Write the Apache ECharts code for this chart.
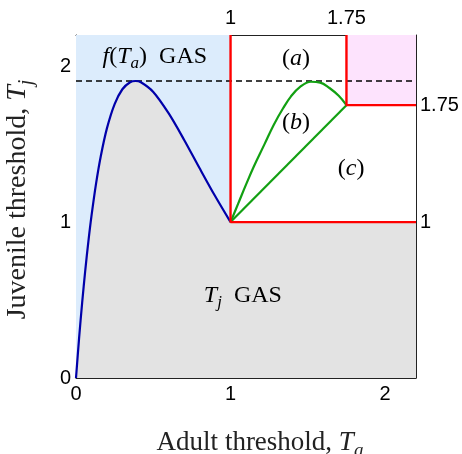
<!DOCTYPE html>
<html>
<head>
<meta charset="utf-8">
<script src="https://cdn.jsdelivr.net/npm/echarts@6/dist/echarts.min.js"></script>
<style>html,body{margin:0;padding:0;background:#fff}#c{width:462px;height:454px}</style>
</head>
<body>
<div id="c"></div>
<script>
// f(Ta) boundary curve (blue)
const fTa = [0, 0.02, 0.04, 0.06, 0.08, 0.10, 0.13, 0.16, 0.20, 0.25, 0.30, 0.35, 0.385, 0.42, 0.50, 0.60, 0.70, 0.80, 0.90, 1.00];
const fTj = [0, 0.256, 0.485, 0.691, 0.875, 1.038, 1.248, 1.421, 1.601, 1.757, 1.852, 1.897, 1.905, 1.897, 1.835, 1.697, 1.527, 1.345, 1.167, 1.00];
// green region boundary
const gTa = [1.00, 1.05, 1.10, 1.15, 1.22, 1.28, 1.34, 1.39, 1.45, 1.52, 1.58, 1.64, 1.70, 1.75];
const gTj = [1.00, 1.12, 1.24, 1.355, 1.50, 1.625, 1.73, 1.805, 1.867, 1.90, 1.895, 1.86, 1.81, 1.75];
const diagTa = [1.00, 1.75];
const diagTj = [1.00, 1.75];
// red threshold lines
const red1Ta = [1, 1, 2.2];
const red1Tj = [2.2, 1, 1];
const red2Ta = [1.75, 1.75, 2.2];
const red2Tj = [2.2, 1.75, 1.75];
// dashed max level
const peakLevel = 1.905;
// axes
const axisMax = 2.2;
const bottomTicks = [0, 1, 2];
const leftTicks = [0, 1, 2];
const topTicks = [1, 1.75];
const rightTicks = [1, 1.75];

const zip = (a, b) => a.map((v, i) => [v, b[i]]);
const grayData = zip(fTa, fTj).concat([[axisMax, 1]]);

const serif = 'Liberation Serif';
const sans = 'Liberation Sans';
function mkRich(fs) {
  return {
    n: {fontFamily: serif, fontSize: fs, lineHeight: fs + 2, color: '#222'},
    i: {fontFamily: serif, fontSize: fs, fontStyle: 'italic', lineHeight: fs + 2, color: '#222'},
    s: {fontFamily: serif, fontSize: Math.round(fs * 0.7), fontStyle: 'italic', lineHeight: Math.round(fs * 0.7) + 2, padding: [Math.round(fs * 0.6), 0, 0, 0], color: '#222'}
  };
}
const richNote = mkRich(24);
const richTitle = mkRich(27);
const richTitleY = mkRich(28);

const chart = echarts.init(document.getElementById('c'), null, {renderer: 'canvas'});
const axisLine = {show: true, onZero: false, lineStyle: {color: '#222', width: 1}};
const lbl = {fontFamily: sans, fontSize: 20, color: '#000'};
chart.setOption({
  animation: false,
  backgroundColor: '#fff',
  grid: {left: 76, right: 46, top: 35, bottom: 76, containLabel: false, outerBoundsMode: 'none'},
  xAxis: [{
    type: 'value', min: 0, max: axisMax, position: 'bottom',
    axisLine: axisLine, splitLine: {show: false},
    axisTick: {show: true, inside: true, length: 5, customValues: bottomTicks, lineStyle: {color: '#222'}},
    axisLabel: Object.assign({customValues: bottomTicks, margin: 6}, lbl),
    name: '{n|Adult threshold, }{i|T}{s|a}', nameLocation: 'middle', nameGap: 50,
    nameTextStyle: {rich: richTitle, padding: [0, 0, 0, 28]}
  }, {
    type: 'value', min: 0, max: axisMax, position: 'top',
    axisLine: axisLine, splitLine: {show: false},
    axisTick: {show: true, inside: true, length: 5, customValues: topTicks, lineStyle: {color: '#222'}},
    axisLabel: Object.assign({customValues: topTicks, margin: 7}, lbl)
  }],
  yAxis: [{
    type: 'value', min: 0, max: axisMax, position: 'left',
    axisLine: axisLine, splitLine: {show: false},
    axisTick: {show: true, inside: true, length: 5, customValues: leftTicks, lineStyle: {color: '#222'}},
    axisLabel: Object.assign({customValues: leftTicks, margin: 5}, lbl),
    name: '{n|Juvenile threshold, }{i|T}{s|j}', nameLocation: 'middle', nameGap: 43, nameRotate: 90,
    nameTextStyle: {rich: richTitleY, padding: [0, 0, 0, 14]}
  }, {
    type: 'value', min: 0, max: axisMax, position: 'right',
    axisLine: axisLine, splitLine: {show: false},
    axisTick: {show: true, inside: true, length: 5, customValues: rightTicks, lineStyle: {color: '#222'}},
    axisLabel: Object.assign({customValues: rightTicks, margin: 4}, lbl)
  }],
  series: [
    {type: 'line', data: [], z: 1, silent: true,
      markArea: {silent: true, data: [
        [{coord: [0, 0], itemStyle: {color: '#dcecfc'}}, {coord: [1, axisMax]}],
        [{coord: [1.75, 1.75], itemStyle: {color: '#fde3fd'}}, {coord: [axisMax, axisMax]}]
      ]}},
    {type: 'line', data: grayData, z: 2, symbol: 'none', lineStyle: {width: 0}, areaStyle: {color: '#e3e3e3', opacity: 1}},
    {type: 'line', data: [[0, peakLevel], [axisMax, peakLevel]], z: 3, symbol: 'none', lineStyle: {color: '#000', width: 1.3, type: [6, 4]}},
    {type: 'line', data: zip(fTa, fTj), z: 4, symbol: 'none', smooth: 0.3, lineStyle: {color: '#0000aa', width: 2.2}},
    {type: 'line', data: zip(gTa, gTj), z: 4, symbol: 'none', smooth: 0.4, lineStyle: {color: '#12a012', width: 2.2}},
    {type: 'line', data: zip(diagTa, diagTj), z: 4, symbol: 'none', lineStyle: {color: '#12a012', width: 2.2}},
    {type: 'line', data: zip(red1Ta, red1Tj), z: 5, symbol: 'none', lineStyle: {color: '#ff0000', width: 2.4}},
    {type: 'line', data: zip(red2Ta, red2Tj), z: 5, symbol: 'none', lineStyle: {color: '#ff0000', width: 2.4}}
  ]
});

const notes = [
  {pos: [0.51, 2.06], text: '{i|f}{n|(}{i|T}{s|a}{n|)  GAS}'},
  {pos: [1.424, 2.045], text: '{n|(}{i|a}{n|)}'},
  {pos: [1.424, 1.64], text: '{n|(}{i|b}{n|)}'},
  {pos: [1.78, 1.345], text: '{n|(}{i|c}{n|)}'},
  {pos: [1.08, 0.53], text: '{i|T}{s|j}{n|  GAS}'}
];
chart.setOption({
  graphic: notes.map(n => {
    const p = chart.convertToPixel({xAxisIndex: 0, yAxisIndex: 0}, n.pos);
    return {type: 'text', x: p[0], y: p[1], z: 100,
      style: {text: n.text, rich: richNote, align: 'center', verticalAlign: 'middle'}};
  })
});
</script>
</body>
</html>
